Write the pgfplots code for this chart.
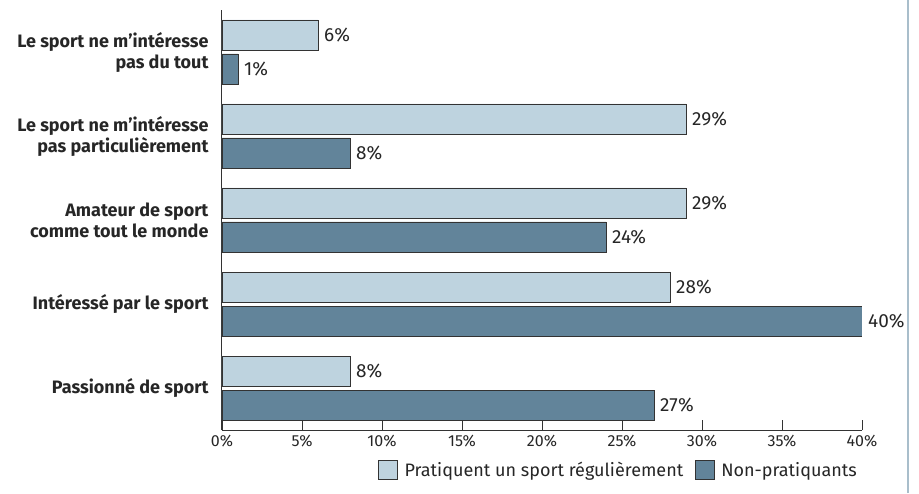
\documentclass[border=0pt]{standalone}
\usepackage{pgfplots}
\pgfplotsset{compat=1.18}
\usepackage{fontspec}
\setmainfont{Fira Sans}
\definecolor{lightbar}{HTML}{BED3DF}
\definecolor{darkbar}{HTML}{62849A}
\definecolor{frameblue}{HTML}{A9BECB}
\definecolor{axisgray}{HTML}{333333}
\begin{document}
\begin{tikzpicture}
\useasboundingbox (-222pt,-63pt) rectangle (697pt,430pt);
\begin{axis}[
  scale only axis, width=640pt, height=420pt,
  at={(0pt,0pt)}, anchor=south west,
  xbar, bar width=30pt,
  xmin=0, xmax=40, ymin=-0.5, ymax=4.5,
  axis lines*=left,
  axis line style={draw=axisgray, line width=1pt},
  xtick={0,5,...,40},
  xticklabel={\pgfmathprintnumber{\tick}\%},
  tick align=inside, major tick length=10pt,
  x tick style={draw=axisgray, line width=0.8pt},
  ytick={0,1,2,3,4},
  yticklabels={{Passionné de sport}, {Intéressé par le sport}, {Amateur de sport\\comme tout le monde}, {Le sport ne m’intéresse\\pas particulièrement}, {Le sport ne m’intéresse\\pas du tout}},
  y tick style={draw=none},
  yticklabel style={align=right, font=\fontsize{18}{21}\selectfont\bfseries, text=black!85, xshift=-10pt},
  xticklabel style={font=\fontsize{16}{18}\selectfont, text=black!85, yshift=-2pt},
  /pgf/number format/assume math mode=true,
  nodes near coords={\pgfmathprintnumber{\pgfplotspointmeta}\%},
  nodes near coords style={font=\fontsize{19}{21}\selectfont, text=black!85, anchor=west, xshift=2.5pt},
  legend style={at={(1,-0.095)}, anchor=east, draw=none, font=\fontsize{18}{20}\selectfont, text=black!85,
    /tikz/every even column/.append style={column sep=6pt}},
  legend columns=2,
  legend cell align=left,
  legend image code/.code={\path[draw=none,fill=none] (-4pt,0pt) -- (24pt,0pt); \draw[#1] (0pt,-9pt) rectangle (19pt,10pt);},
]
\addplot[fill=lightbar, draw=axisgray, line width=0.7pt, bar shift=17pt] coordinates {(8,0) (28,1) (29,2) (29,3) (6,4)};
\addlegendentry{Pratiquent un sport régulièrement}
\addplot[fill=darkbar, draw=axisgray, line width=0.7pt, bar shift=-17pt] coordinates {(27,0) (40,1) (24,2) (8,3) (1,4)};
\addlegendentry{Non-pratiquants}
\end{axis}
\draw[frameblue, line width=2pt] (686pt,-63pt) -- (686pt,430pt);
\end{tikzpicture}
\end{document}
